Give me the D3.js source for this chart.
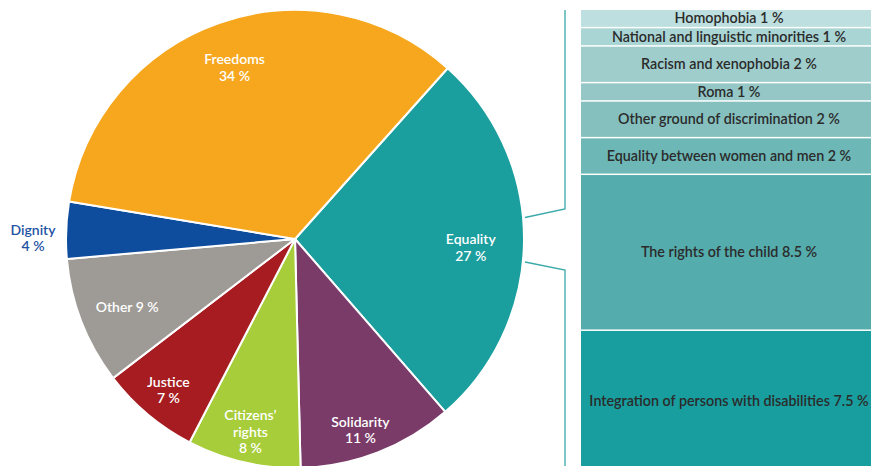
<!DOCTYPE html>
<html><head><meta charset="utf-8">
<script src="https://cdn.jsdelivr.net/npm/d3@7"></script>
<style>body{margin:0;background:#fff}svg{display:block}text{font-family:Lato,"Open Sans",sans-serif}</style>
</head><body><svg id="c" width="871" height="466"></svg>
<script>
// Pie data (clockwise starting after Freedoms)
const pieCategories = ["Equality","Solidarity","Citizens' rights","Justice","Other","Dignity","Freedoms"];
const pieValues = [27, 11, 8, 7, 9, 4, 34];
const pieLabels = [["Equality","27 %"],["Solidarity","11 %"],["Citizens’","rights","8 %"],["Justice","7 %"],["Other 9 %"],["Dignity","4 %"],["Freedoms","34 %"]];
const pieColors = ["#1a9e9e","#7a3b69","#a7cd3a","#a61c20","#9e9b96","#0e4c9e","#f6a71e"];
const labelRadius = [176, 202, 198, 197, 181, 262, 182];
const labelAngleShift = [2.3, 2.3, 0, 0, -0.8, -2, 0];

// Breakdown of Equality
const barCategories = ["Homophobia","National and linguistic minorities","Racism and xenophobia","Roma","Other ground of discrimination","Equality between women and men","The rights of the child","Integration of persons with disabilities"];
const barValues = [1, 1, 2, 1, 2, 2, 8.5, 7.5];
const barValueLabels = ["1 %","1 %","2 %","1 %","2 %","2 %","8.5 %","7.5 %"];
const barColors = ["#bddfdf","#a9d5d4","#9fcdcc","#94c7c6","#85c0bf","#6db7b6","#55acac","#189e9e"];

const svg = d3.select("#c");
const cx = 295, cy = 239, R = 229;
const startAngle = 41.8 * Math.PI / 180;

const pie = d3.pie().sort(null).value(d => d)
  .startAngle(startAngle).endAngle(startAngle + 2 * Math.PI);
const arcs = pie(pieValues);
const arc = d3.arc().innerRadius(0).outerRadius(R);
const g = svg.append("g").attr("transform", `translate(${cx},${cy})`);
g.selectAll("path").data(arcs).join("path")
  .attr("d", arc).attr("fill", (d, i) => pieColors[i])
  .attr("stroke", "#fff").attr("stroke-width", 2).attr("stroke-linejoin", "round");

arcs.forEach((d, i) => {
  const a = (d.startAngle + d.endAngle) / 2 + labelAngleShift[i] * Math.PI / 180;
  const r = labelRadius[i];
  const x = Math.sin(a) * r, y = -Math.cos(a) * r;
  const lines = pieLabels[i];
  const lh = 16.5;
  lines.forEach((l, j) => {
    g.append("text").attr("text-anchor", "middle")
      .attr("font-size", 14)
      .attr("font-weight", 600)
      .attr("fill", i === 5 ? "#1f53a3" : "#fff")
      .attr("x", x)
      .attr("y", y + (j - (lines.length - 1) / 2) * lh + 5).text(l);
  });
});

// Bar
const total = d3.sum(barValues);
const y = d3.scaleLinear().domain([0, total]).range([10, 468.5]);
const bx0 = 581, bx1 = 871;
let cum = 0;
const segs = barValues.map((v, i) => { const s = {i, v, y0: cum, y1: cum + v}; cum += v; return s; });
const bg = svg.append("g");
bg.selectAll("rect").data(segs).join("rect")
  .attr("x", bx0).attr("width", bx1 - bx0)
  .attr("y", d => y(d.y0)).attr("height", d => y(d.y1) - y(d.y0) - 1.5)
  .attr("fill", d => barColors[d.i]);
bg.selectAll("text").data(segs).join("text")
  .attr("x", 729)
  .attr("y", d => d.i === 6 ? y(d.y0) + 82 : (y(d.y0) + y(d.y1) - 1.5) / 2 + (d.i === 7 ? 7 : 5))
  .attr("text-anchor", "middle").attr("font-size", 14.3).attr("font-weight", 600)
  .attr("fill", "#2b2b2b")
  .text(d => barCategories[d.i] + " " + barValueLabels[d.i]);

// Connector lines
const lc = "#3aa9a9";
const conn = svg.append("g").attr("fill", "none").attr("stroke", lc).attr("stroke-width", 1.3);
conn.append("polyline").attr("points", `525,217.5 565,209 565,${y(0)}`);
conn.append("polyline").attr("points", `525,262 565,270 565,466`);
</script></body></html>
